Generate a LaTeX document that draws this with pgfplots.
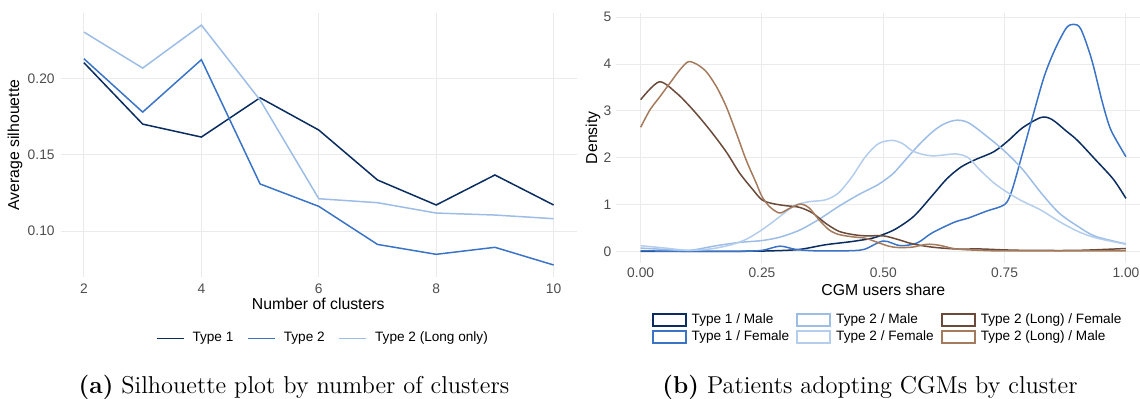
\documentclass[border=0pt]{standalone}
\usepackage{pgfplots}
\pgfplotsset{compat=1.18}
\usepackage{fontspec}
\newfontfamily\arial{Liberation Sans}
\definecolor{navy}{HTML}{0B2C5F}
\definecolor{midblue}{HTML}{3B74C7}
\definecolor{ltblue}{HTML}{9DBDE6}
\definecolor{ltblueb}{HTML}{B4CDEC}
\definecolor{dkbrown}{HTML}{6B4A3A}
\definecolor{ltbrown}{HTML}{A57B5E}
\definecolor{gridc}{HTML}{EBEBEB}
\definecolor{ticktext}{HTML}{4D4D4D}
\begin{document}
\begin{tikzpicture}
\pgfplotsset{
  ggstyle/.style={
    scale only axis,
    axis line style={draw=none},
    major tick length=0pt,
    grid=major,
    major grid style={color=gridc, line width=0.5pt},
    tick label style={font=\arial\fontsize{6.9}{8}\selectfont, text=ticktext, inner sep=0pt},
    /pgf/number format/assume math mode=true,
    label style={font=\arial\fontsize{7.9}{9}\selectfont},
    legend cell align=left,
    legend style={font=\arial\fontsize{6.8}{8}\selectfont, draw=none, fill=none, inner sep=0pt, outer sep=0pt, nodes={inner sep=0.5pt}},
  }
}
% ---------------- left panel ----------------
\begin{axis}[ggstyle,
  at={(30.25pt,-138.5pt)}, anchor=south west,
  width=258.3pt, height=131.95pt,
  xmin=1.6, xmax=10.4, ymin=0.0698, ymax=0.2431,
  xtick={2,4,6,8,10},
  ytick={0.10,0.15,0.20}, yticklabels={0.10,0.15,0.20},
  xticklabel style={anchor=center, yshift=-6pt},
  yticklabel style={anchor=east, xshift=-2.75pt},
  xlabel={Number of clusters}, ylabel={Average silhouette},
  xlabel style={at={(axis description cs:0.499,-0.103)}, anchor=center},
  ylabel style={at={(axis description cs:-0.088,0.5)}, anchor=center},
  legend columns=3,
  legend style={at={(axis description cs:0.507,-0.233)}, anchor=center,
    /tikz/every odd column/.append style={column sep=3.5pt},
    /tikz/every even column/.append style={column sep=6.5pt}},
  legend image code/.code={\draw[#1] (0pt,0pt) -- (13.5pt,0pt);},
]
\addplot[navy, line width=0.75pt] coordinates {(2,0.2105)(3,0.1702)(4,0.1617)(5,0.1875)(6,0.1663)(7,0.1335)(8,0.1171)(9,0.1368)(10,0.1171)};
\addlegendentry{Type 1}
\addplot[midblue, line width=0.75pt] coordinates {(2,0.2131)(3,0.1781)(4,0.2125)(5,0.1309)(6,0.1162)(7,0.0912)(8,0.0847)(9,0.0893)(10,0.0777)};
\addlegendentry{Type 2}
\addplot[ltblue, line width=0.75pt] coordinates {(2,0.2306)(3,0.2070)(4,0.2352)(5,0.1860)(6,0.1212)(7,0.1186)(8,0.1118)(9,0.1105)(10,0.1081)};
\addlegendentry{Type 2 (Long only)}
\end{axis}
% ---------------- right panel ----------------
\begin{axis}[ggstyle,
  at={(308.2pt,-131.3pt)}, anchor=south west,
  width=266.9pt, height=124.8pt,
  xmin=-0.05, xmax=1.05, ymin=-0.2415, ymax=5.092,
  xtick={0,0.25,0.5,0.75,1}, xticklabels={0.00,0.25,0.50,0.75,1.00},
  ytick={0,1,2,3,4,5},
  xticklabel style={anchor=center, yshift=-4.9pt},
  yticklabel style={anchor=east, xshift=-2.35pt},
  xlabel={CGM users share}, ylabel={Density},
  xlabel style={at={(axis description cs:0.5,-0.108)}, anchor=center},
  ylabel style={at={(axis description cs:-0.044,0.5)}, anchor=center},
  legend columns=3,
  legend style={at={(axis description cs:0.507,-0.264)}, anchor=center,
    row sep=1.5pt,
    /tikz/every odd column/.append style={column sep=2pt},
    /tikz/every even column/.append style={column sep=3pt}},
  legend image code/.code={\draw[#1, line width=1pt, fill=white] (0pt,-3pt) rectangle (16.5pt,3pt);},
  every axis plot/.append style={line width=0.75pt, smooth},
]
% Type 1 / Male
\addplot[navy, forget plot] coordinates {(0,0.0)(0.1,0.0)(0.2,0.0)(0.27,0.01)(0.327,0.04)(0.381,0.14)(0.436,0.21)(0.477,0.28)(0.5,0.36)(0.526,0.48)(0.563,0.75)(0.6,1.18)(0.631,1.55)(0.66,1.80)(0.69,1.96)(0.728,2.13)(0.757,2.36)(0.787,2.64)(0.825,2.86)(0.847,2.82)(0.877,2.57)(0.9,2.37)(0.937,1.96)(0.974,1.54)(1.0,1.13)};
% Type 1 / Female
\addplot[midblue, forget plot] coordinates {(0,0.01)(0.1,0.0)(0.2,0.0)(0.25,0.02)(0.287,0.11)(0.32,0.04)(0.36,0.01)(0.42,0.01)(0.46,0.04)(0.5,0.22)(0.535,0.12)(0.57,0.18)(0.6,0.39)(0.646,0.62)(0.675,0.71)(0.713,0.86)(0.75,1.0)(0.765,1.3)(0.787,2.1)(0.81,2.96)(0.832,3.75)(0.854,4.32)(0.877,4.77)(0.892,4.85)(0.907,4.75)(0.929,4.11)(0.951,3.2)(0.965,2.7)(0.976,2.45)(1.0,2.02)};
% Type 2 / Male
\addplot[ltblue, forget plot] coordinates {(0,0.07)(0.05,0.04)(0.1,0.02)(0.156,0.12)(0.204,0.19)(0.25,0.23)(0.286,0.3)(0.327,0.45)(0.367,0.68)(0.408,0.96)(0.449,1.21)(0.49,1.43)(0.518,1.64)(0.531,1.78)(0.571,2.25)(0.6,2.54)(0.623,2.71)(0.649,2.8)(0.675,2.75)(0.713,2.46)(0.75,2.14)(0.787,1.75)(0.825,1.25)(0.862,0.82)(0.9,0.54)(0.937,0.32)(1.0,0.16)};
% Type 2 / Female
\addplot[ltblueb, forget plot] coordinates {(0,0.12)(0.05,0.07)(0.1,0.02)(0.15,0.06)(0.19,0.15)(0.22,0.27)(0.25,0.46)(0.279,0.68)(0.30,0.85)(0.32,0.99)(0.347,1.06)(0.381,1.1)(0.408,1.25)(0.436,1.6)(0.463,2.02)(0.49,2.3)(0.518,2.37)(0.54,2.3)(0.563,2.13)(0.6,2.04)(0.649,2.08)(0.675,2.0)(0.698,1.75)(0.728,1.46)(0.757,1.25)(0.787,1.07)(0.825,0.88)(0.862,0.64)(0.9,0.43)(0.937,0.29)(1.0,0.15)};
% Type 2 (Long) / Female
\addplot[dkbrown, forget plot] coordinates {(0,3.24)(0.038,3.62)(0.074,3.38)(0.108,3.02)(0.142,2.60)(0.176,2.13)(0.204,1.67)(0.231,1.32)(0.25,1.1)(0.272,1.02)(0.299,0.975)(0.327,0.94)(0.354,0.82)(0.381,0.6)(0.408,0.43)(0.436,0.36)(0.463,0.33)(0.5,0.33)(0.531,0.25)(0.56,0.16)(0.6,0.09)(0.65,0.05)(0.7,0.05)(0.75,0.03)(0.8,0.02)(0.9,0.02)(1.0,0.06)};
% Type 2 (Long) / Male
\addplot[ltbrown, forget plot] coordinates {(0,2.65)(0.019,3.02)(0.04,3.31)(0.06,3.59)(0.081,3.88)(0.098,4.05)(0.115,4.0)(0.135,3.84)(0.156,3.52)(0.176,3.1)(0.197,2.53)(0.217,1.96)(0.238,1.46)(0.25,1.17)(0.265,0.96)(0.279,0.85)(0.289,0.82)(0.309,0.93)(0.33,1.01)(0.347,0.93)(0.367,0.68)(0.388,0.46)(0.408,0.36)(0.436,0.31)(0.463,0.28)(0.483,0.21)(0.511,0.11)(0.531,0.08)(0.56,0.09)(0.59,0.15)(0.615,0.13)(0.65,0.05)(0.7,0.02)(0.75,0.01)(1.0,0.01)};
% legend, row-wise order
\addlegendimage{navy}\addlegendentry{Type 1 / Male}
\addlegendimage{ltblue}\addlegendentry{Type 2 / Male}
\addlegendimage{dkbrown}\addlegendentry{Type 2 (Long) / Female}
\addlegendimage{midblue}\addlegendentry{Type 1 / Female}
\addlegendimage{ltblueb}\addlegendentry{Type 2 / Female}
\addlegendimage{ltbrown}\addlegendentry{Type 2 (Long) / Male}
\end{axis}
% ---------------- captions ----------------
\node[anchor=base, font=\fontsize{12.2}{14}\selectfont, inner sep=0pt] at (147pt,-196.5pt) {\textbf{(a)} Silhouette plot by number of clusters};
\node[anchor=base, font=\fontsize{12.2}{14}\selectfont, inner sep=0pt] at (435pt,-196.5pt) {\textbf{(b)} Patients adopting CGMs by cluster};
\pgfresetboundingbox
\path[use as bounding box] (0pt,0pt) rectangle (570pt,-199pt);
\end{tikzpicture}
\end{document}
